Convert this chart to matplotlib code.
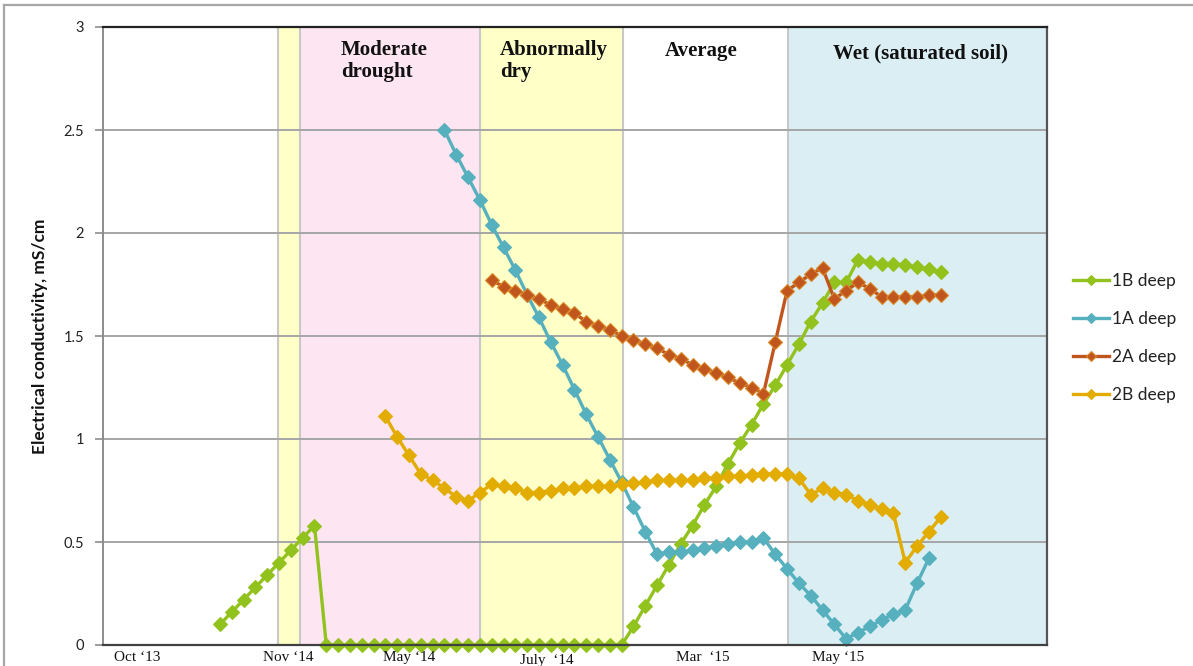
import numpy as np
import matplotlib
matplotlib.use("Agg")
import matplotlib.pyplot as plt
from matplotlib.lines import Line2D

# ---- measurements: electrical conductivity (mS/cm) per reading index ----
ec_1b_start = 0
ec_1b = [0.10, 0.16, 0.22, 0.28, 0.34, 0.40, 0.46, 0.52, 0.58,
         0, 0, 0, 0, 0, 0, 0, 0, 0, 0, 0, 0, 0,
         0, 0, 0, 0, 0, 0, 0, 0, 0, 0, 0, 0, 0,
         0.09, 0.19, 0.29, 0.39, 0.49, 0.58, 0.68, 0.77, 0.88, 0.98,
         1.07, 1.17, 1.26, 1.36, 1.46, 1.57, 1.66, 1.76, 1.76, 1.87,
         1.86, 1.85, 1.85, 1.845, 1.835, 1.825, 1.81]

ec_1a_start = 19
ec_1a = [2.50, 2.38, 2.27, 2.16, 2.04, 1.93, 1.82, 1.70, 1.59, 1.47,
         1.36, 1.24, 1.12, 1.01, 0.90, 0.79, 0.67, 0.55, 0.44, 0.45,
         0.45, 0.46, 0.47, 0.48, 0.49, 0.50, 0.50, 0.52, 0.44, 0.37,
         0.30, 0.24, 0.17, 0.10, 0.03, 0.06, 0.09, 0.12, 0.15, 0.17,
         0.30, 0.42]

ec_2a_start = 23
ec_2a = [1.77, 1.74, 1.72, 1.70, 1.68, 1.65, 1.63, 1.61, 1.57, 1.55,
         1.53, 1.50, 1.48, 1.46, 1.44, 1.41, 1.39, 1.36, 1.34, 1.32,
         1.30, 1.27, 1.25, 1.22, 1.47, 1.72, 1.76, 1.80, 1.83, 1.68,
         1.72, 1.76, 1.73, 1.69, 1.69, 1.69, 1.69, 1.70, 1.70]

ec_2b_start = 14
ec_2b = [1.11, 1.01, 0.92, 0.83, 0.80, 0.76, 0.72, 0.70, 0.74, 0.78,
         0.77, 0.76, 0.74, 0.74, 0.75, 0.76, 0.76, 0.77, 0.77, 0.77,
         0.78, 0.785, 0.79, 0.80, 0.80, 0.80, 0.80, 0.81, 0.81, 0.82,
         0.82, 0.825, 0.83, 0.83, 0.83, 0.81, 0.73, 0.76, 0.74, 0.73,
         0.70, 0.68, 0.66, 0.64, 0.40, 0.48, 0.55, 0.62]

series_names = ["1B deep", "1A deep", "2A deep", "2B deep"]

# date labels along the bottom, at reading index
date_labels = ["Oct \u201813", "Nov \u201814", "May \u201814", "July  \u201814",
               "Mar  \u201815", "May \u201815"]
date_positions = [-7.0, 5.75, 16.0, 27.7, 40.9, 52.3]

# soil moisture periods (start, end) in reading index
period_names = ["", "Moderate\ndrought", "Abnormally\ndry", "Average",
                "Wet (saturated soil)"]
period_spans = [(4.9, 6.8), (6.8, 22.05), (22.05, 34.1), (34.1, 48.1),
                (48.1, 70.0)]

y_ticks = [0, 0.5, 1, 1.5, 2, 2.5, 3]
y_tick_labels = ["0", "0.5", "1", "1.5", "2", "2.5", "3"]

# ---- styling ----
period_colors = ["#FFFFC8", "#FDE6F2", "#FFFFC8", "#FFFFFF", "#DAEEF4"]
line_colors = ["#92C21E", "#56B0BD", "#C0561E", "#E2AC00"]
marker_edges = ["#92C21E", "#56B0BD", "#D98A2A", "#E2AC00"]

fig = plt.figure(figsize=(11.93, 6.66), dpi=100)
W, H = 1193, 666
ax = fig.add_axes([103 / W, (H - 645) / H, 944 / W, 618 / H])

ax.set_xlim(-9.9, 70.0)
ax.set_ylim(0, 3)

# background periods with thin separators
for (x0, x1), c in zip(period_spans, period_colors):
    ax.axvspan(x0, x1, color=c, zorder=0, lw=0)
for x0, x1 in period_spans:
    ax.axvline(x0, color="#C8C8C8", lw=1.5, zorder=1)

# horizontal gridlines
for yv in y_ticks[1:-1]:
    ax.axhline(yv, color="#A6A6A6", lw=1.4, zorder=1)

# data lines
all_series = [(ec_1b_start, ec_1b), (ec_1a_start, ec_1a),
              (ec_2a_start, ec_2a), (ec_2b_start, ec_2b)]
handles = []
for (start, vals), name, lc, me in zip(all_series, series_names,
                                       line_colors, marker_edges):
    xs = np.arange(start, start + len(vals))
    h, = ax.plot(xs, vals, color=lc, lw=2.4, marker="D", ms=6.8,
                 mfc=lc, mec=me, mew=0.8, zorder=3, label=name,
                 clip_on=False)
    handles.append(h)

# period captions
serif = ["Liberation Serif", "DejaVu Serif"]
caption_pos = [(10.25, "left", 0.979), (23.7, "left", 0.979),
               (40.7, "center", 0.977), (59.3, "center", 0.974)]
for name, (xp, ha, yp) in zip(period_names[1:], caption_pos):
    ax.text(xp, yp, name, transform=ax.get_xaxis_transform(),
            ha=ha, va="top", fontsize=15, fontweight="bold",
            family=serif, color="#111111", linespacing=1.12, zorder=5)

# axes frame
for side in ["top", "right", "bottom", "left"]:
    ax.spines[side].set_zorder(6)
ax.spines["top"].set_color("#222222")
ax.spines["top"].set_linewidth(1.6)
ax.spines["right"].set_color("#555555")
ax.spines["right"].set_linewidth(1.6)
ax.spines["bottom"].set_color("#404040")
ax.spines["bottom"].set_linewidth(1.6)
ax.spines["left"].set_color("#8C8C8C")
ax.spines["left"].set_linewidth(1.4)

# y axis
sans = ["Lato", "DejaVu Sans"]
ax.set_yticks(y_ticks)
ax.set_yticklabels(y_tick_labels, family=sans, fontsize=10.5,
                   color="#222222")
ax.tick_params(axis="y", length=6, width=1.2, color="#8C8C8C", pad=7.5)
ax.set_ylabel("Electrical conductivity, mS/cm", family=sans,
              fontsize=12.5, fontweight="bold", color="#111111",
              labelpad=11)

# x axis: date labels drawn under the axis
ax.set_xticks([])
for lab, xp in zip(date_labels, date_positions):
    dy = -0.025 if lab.startswith("July") else -0.021
    ax.text(xp, dy, lab, transform=ax.get_xaxis_transform(),
            ha="center", va="center", fontsize=11, family=serif,
            color="#111111", clip_on=False)

# legend
leg = fig.legend(handles=handles, labels=series_names,
                 loc="upper left", bbox_to_anchor=(1073 / W, 1 - 273 / H),
                 frameon=False, prop={"family": sans, "size": 12.5},
                 handlelength=2.1, handletextpad=0.15, labelspacing=1.27,
                 borderpad=0, borderaxespad=0, markerscale=0.75)
for t in leg.get_texts():
    t.set_color("#222222")

# outer chart border (top and left visible)
fig.add_artist(Line2D([4 / W, 1.0], [1 - 5 / H, 1 - 5 / H],
                      transform=fig.transFigure, color="#A6A6A6", lw=1.6))
fig.add_artist(Line2D([4 / W, 4 / W], [0, 1 - 5 / H],
                      transform=fig.transFigure, color="#A6A6A6", lw=1.6))

fig.savefig("out.png", dpi=100)
